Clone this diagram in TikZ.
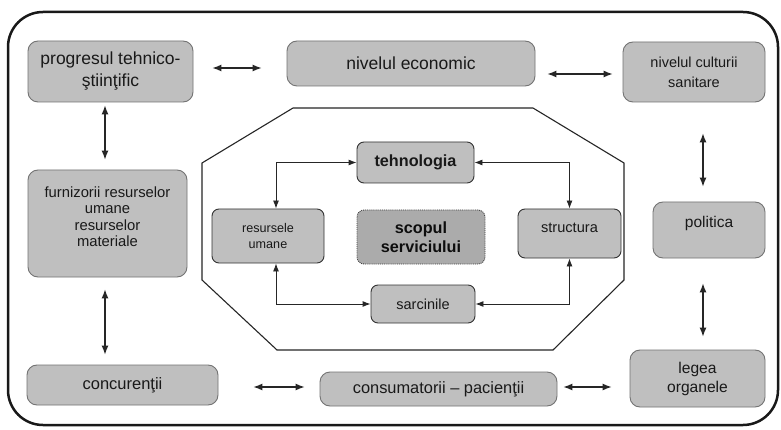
\documentclass[tikz,border=0pt]{standalone}
\usepackage{fontspec}
\setmainfont{Liberation Sans}
\usetikzlibrary{arrows.meta}
\newcommand{\fs}[2]{\fontsize{#1}{#2}\selectfont}
\begin{document}
\begin{tikzpicture}[x=1pt,y=-1pt,
  obox/.style={draw=black!55, line width=0.9pt, fill=black!25, rounded corners=10pt,
    inner sep=0pt, align=center, text=black!90},
  ibox/.style={draw=black!80, line width=0.9pt, fill=black!25, rounded corners=7pt,
    inner sep=0pt, align=center, text=black!90},
  cbox/.style={draw=black!75, line width=0.9pt, densely dotted, fill=black!33, rounded corners=7pt,
    inner sep=0pt, align=center, text=black!95},
  dbl/.style={{Latex[length=9pt,width=7pt]}-{Latex[length=9pt,width=7pt]}, line width=1.1pt, draw=black!85},
  iarr/.style={{Latex[length=8pt,width=6pt]}-{Latex[length=8pt,width=6pt]}, line width=0.9pt, draw=black!85},
  frame/.style={line width=2.5pt, draw=black!90, rounded corners=35pt},
  octo/.style={line width=1.1pt, draw=black!85}
]
\useasboundingbox (0,0) rectangle (781,430);
\fill[white] (0,0) rectangle (781,430);

% outer frame
\draw[frame] (8,12) rectangle (778,425);

% octagon
\draw[octo] (293,108) -- (533,108) -- (624,163) -- (624,280) -- (553,350)
  -- (277,350) -- (202,280) -- (202,163) -- cycle;

% outer nodes
\node[obox, minimum width=165pt, minimum height=61pt, font=\fs{17.5}{22}] (prog) at (110.5,71.5) {progresul tehnico-\\ştiinţific};
\node[obox, minimum width=248pt, minimum height=45pt, font=\fs{17.5}{21}] (econ) at (411,63.5) {nivelul economic};
\node[obox, minimum width=142pt, minimum height=60pt, font=\fs{14.5}{20}] (cult) at (694,72) {nivelul culturii\\sanitare};
\node[obox, minimum width=159pt, minimum height=107pt, text depth=14pt, font=\fs{14.8}{16.3}] (furn) at (107.5,223.5) {furnizorii resurselor\\umane\\resurselor\\materiale};
\node[obox, minimum width=112pt, minimum height=56pt, text height=11pt, text depth=16pt, font=\fs{15.5}{18}] (pol) at (709,230) {politica};
\node[obox, minimum width=191pt, minimum height=40pt, font=\fs{16.5}{19}] (conc) at (122.5,385) {concurenţii};
\node[obox, minimum width=237pt, minimum height=34pt, font=\fs{16.4}{19}] (cons) at (438.5,389) {consumatorii -- pacienţii};
\node[obox, minimum width=135pt, minimum height=57pt, font=\fs{15.6}{19}] (legea) at (697.5,378.5) {legea\\organele};

% inner nodes
\node[ibox, minimum width=117pt, minimum height=41pt, font=\fs{16.2}{19}\bfseries] (tehn) at (415.5,162.5) {tehnologia};
\node[ibox, minimum width=112pt, minimum height=54pt, font=\fs{12.6}{16}] (res) at (268,236) {resursele\\umane};
\node[cbox, minimum width=128pt, minimum height=54pt, font=\fs{16.2}{19}\bfseries] (scop) at (421,237) {scopul\\serviciului};
\node[ibox, minimum width=103pt, minimum height=49pt, text depth=12pt, font=\fs{14.6}{18}] (struct) at (569.5,233.5) {structura};
\node[ibox, minimum width=104pt, minimum height=38pt, font=\fs{14.5}{18}] (sarc) at (423,304) {sarcinile};

% outer connectors
\coordinate (a1) at ([yshift=3.5pt]prog.east);
\draw[dbl, shorten <=19pt, shorten >=25pt] (a1) -- (a1 -| econ.west);
\coordinate (a2) at ([yshift=-2pt]cult.west);
\draw[dbl, shorten <=12pt, shorten >=10pt] (a2 -| econ.east) -- (a2);
\coordinate (a3) at ([xshift=-2.5pt]furn.north);
\draw[dbl, shorten <=3pt, shorten >=10pt] (a3 |- prog.south) -- (a3);
\coordinate (a4) at ([xshift=-2.5pt]furn.south);
\draw[dbl, shorten <=12pt, shorten >=10pt] (a4) -- (a4 |- conc.north);
\coordinate (a5) at ([yshift=2pt]cons.west);
\draw[dbl, shorten <=35pt, shorten >=15pt] (a5 -| conc.east) -- (a5);
\coordinate (a6) at ([yshift=2pt]cons.east);
\draw[dbl, shorten <=6pt, shorten >=18pt] (a6) -- (a6 -| legea.west);
\coordinate (a7) at ([xshift=-6pt]pol.north);
\draw[dbl, shorten <=31pt, shorten >=15pt] (a7 |- cult.south) -- (a7);
\coordinate (a8) at ([xshift=-6pt]pol.south);
\draw[dbl, shorten <=25pt, shorten >=13pt] (a8) -- (a8 |- legea.north);

% inner connectors
\draw[iarr] (tehn.west) -| ([xshift=8pt]res.north);
\draw[iarr] (tehn.east) -| (struct.north);
\draw[iarr] ([xshift=8pt]res.south) |- (sarc.west);
\draw[iarr] (struct.south) |- (sarc.east);
\end{tikzpicture}
\end{document}
